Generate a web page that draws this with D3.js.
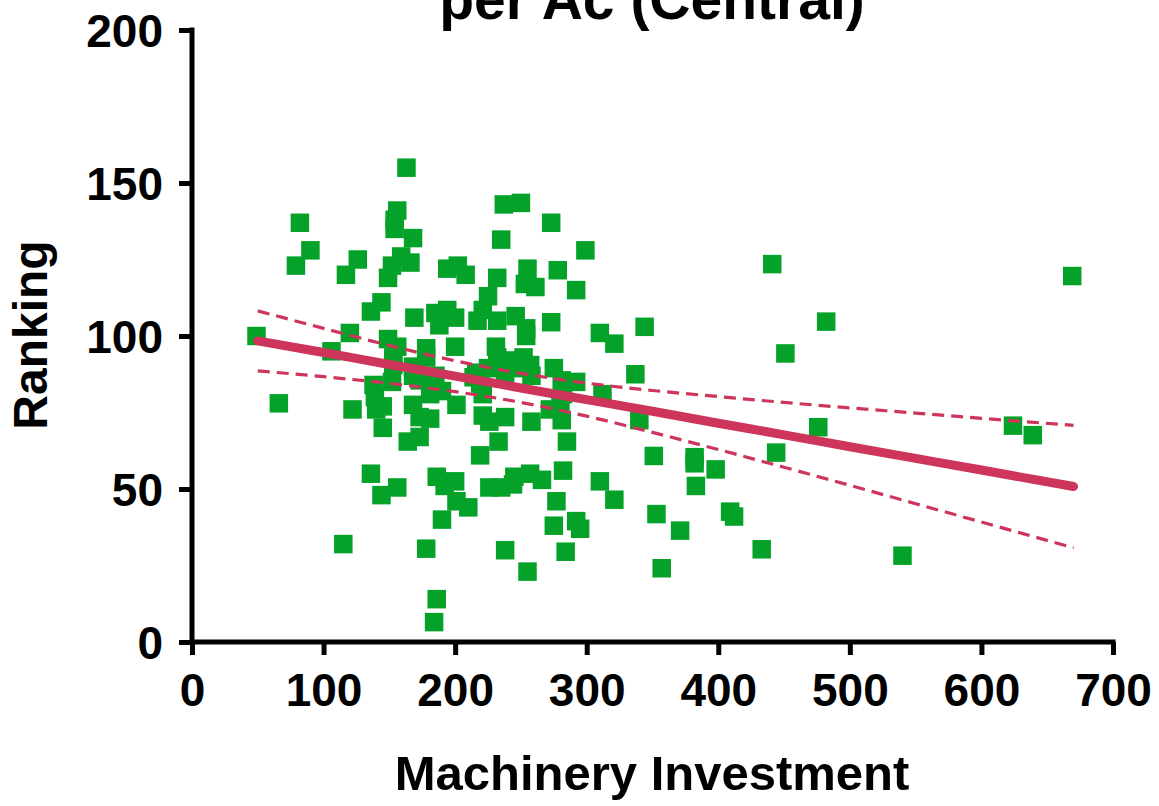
<!DOCTYPE html>
<html>
<head>
<meta charset="utf-8">
<script src="https://cdn.jsdelivr.net/npm/d3@7"></script>
<style>
  html, body { margin: 0; padding: 0; background: #fff; }
  svg { display: block; }
  text { font-family: "Liberation Sans", Arial, sans-serif; font-weight: bold; fill: #000; }
</style>
</head>
<body>
<svg id="chart" width="1159" height="806"></svg>
<script>
// ---- data ----
const titleText = "per Ac (Central)";
const xTitle = "Machinery Investment";
const yTitle = "Ranking";
const xTicks = [0, 100, 200, 300, 400, 500, 600, 700];
const yTicks = [0, 50, 100, 150, 200];

const pointX = [
  49, 66, 82, 90, 79, 126, 117, 120, 106, 122, 115, 136, 138, 139, 140, 136,
  163, 156, 154, 154, 168, 159, 166, 152, 149, 144, 169, 185, 149, 156, 178, 153,
  153, 168, 178, 173, 168, 185, 181, 190, 152, 168, 173, 181, 145, 145, 173, 164,
  156, 144, 186, 190, 178, 186, 184,
  194, 202, 208, 232, 255, 253, 261, 237, 250, 235, 225, 221, 217, 194, 200, 188,
  232, 246, 254, 254, 200, 231, 232, 239, 225, 252, 257, 258, 247, 216, 214, 219,
  221, 238, 201, 221, 226, 238, 233, 219, 200, 192, 201, 210, 226, 235, 244, 245,
  257, 266, 238, 255,
  273, 299, 278, 292, 273, 310, 321, 344, 275, 281, 292, 282, 280, 272, 281, 258,
  312, 337, 340, 285, 282, 310, 321, 277, 275, 292, 295, 284,
  441, 669, 482, 451, 476, 624, 639, 444, 351, 382, 382, 398, 383, 353, 409, 412,
  371, 433, 540, 357
];
const pointY = [
  100, 78, 137, 128, 123, 125, 120, 101, 95, 76, 32, 108, 84, 80, 76, 55,
  155, 141, 138, 135, 132, 126, 124, 123, 119, 111, 106, 107.5, 99, 96.5, 96, 93,
  90.5, 90, 93, 85.5, 87, 87, 81, 82, 85, 77.5, 73.5, 73, 77, 70, 67, 65.5,
  50.5, 48, 54, 40, 30.5, 14, 6.5,
  122, 123, 120, 119, 122, 117, 116, 143, 143.5, 131.5, 113, 108.5, 105, 108.5, 106, 103.5,
  105, 106.5, 102.5, 100, 96.5, 96.5, 93, 92, 89.5, 93, 90.5, 87, 89.5, 88, 86.5, 84.5,
  81, 88, 77.5, 74, 72, 73.5, 65.5, 61, 52.5, 51, 46, 44, 50.5, 50.5, 51.5, 54,
  55, 53, 30, 23,
  137, 128, 121.5, 115, 104.5, 101, 97.5, 103, 89.5, 85.5, 85, 81, 78.5, 76, 72.5, 72,
  81, 87.5, 72.5, 65.5, 56, 52.5, 46.5, 46, 38, 39.5, 37, 29.5,
  123.5, 119.6, 104.7, 94.3, 70.2, 70.7, 67.6, 61.9, 60.8, 60.4, 58.4, 56.4, 51, 41.8, 42.6, 41,
  36.4, 30.3, 28.2, 24.1
];

// linear fit and its 95% confidence band
const fitX   = [50, 100, 150, 200, 250, 300, 350, 400, 450, 500, 550, 600, 670];
const fitY   = [98.4, 94.6, 90.7, 86.9, 83.0, 79.2, 75.4, 71.5, 67.7, 63.8, 60.0, 56.2, 50.8];
const upperY = [108.2, 102.5, 96.9, 91.9, 87.8, 84.6, 82.2, 80.2, 78.3, 76.5, 74.8, 73.1, 70.8];
const lowerY = [88.6, 86.7, 84.5, 81.8, 78.3, 73.8, 68.5, 62.9, 57.1, 51.2, 45.2, 39.2, 30.8];

// ---- drawing ----
const svg = d3.select("#chart");
const x = d3.scaleLinear().domain([0, 700]).range([192, 1113]);
const y = d3.scaleLinear().domain([0, 200]).range([642, 30]);

const green = "#05a22a";
const red = "#cd355b";
const ms = 18.5;

// points
svg.append("g").selectAll("rect")
  .data(pointX.map((v, i) => [v, pointY[i]]))
  .join("rect")
  .attr("x", d => x(d[0]) - ms / 2)
  .attr("y", d => y(d[1]) - ms / 2)
  .attr("width", ms)
  .attr("height", ms)
  .attr("fill", green);

// fit lines
const line = arr => d3.line().x((d, i) => x(fitX[i])).y(d => y(d)).curve(d3.curveMonotoneX)(arr);
svg.append("path").attr("d", line(upperY)).attr("fill", "none")
  .attr("stroke", red).attr("stroke-width", 3.2).attr("stroke-dasharray", "12,7");
svg.append("path").attr("d", line(lowerY)).attr("fill", "none")
  .attr("stroke", red).attr("stroke-width", 3.2).attr("stroke-dasharray", "12,7");
svg.append("path").attr("d", line(fitY)).attr("fill", "none")
  .attr("stroke", red).attr("stroke-width", 9).attr("stroke-linecap", "round");

// axes
const xAxis = svg.append("g").attr("transform", "translate(0,642)")
  .call(d3.axisBottom(x).tickValues(xTicks).tickSize(13).tickPadding(18).tickFormat(d3.format("d")));
const yAxis = svg.append("g").attr("transform", "translate(192,0)")
  .call(d3.axisLeft(y).tickValues(yTicks).tickSize(13).tickPadding(16).tickFormat(d3.format("d")));
[xAxis, yAxis].forEach(g => {
  g.select(".domain").attr("stroke", "#000").attr("stroke-width", 5)
    .attr("stroke-linecap", "square");
  g.selectAll(".tick line").attr("stroke", "#000").attr("stroke-width", 5);
  g.selectAll(".tick text").attr("font-size", 46).attr("font-family", "Liberation Sans, Arial, sans-serif")
    .attr("font-weight", "bold").attr("fill", "#000");
});
xAxis.select(".domain").attr("d", `M${x(0)},0H${x(700)}`);
yAxis.select(".domain").attr("d", `M0,${y(0)}V${y(200)}`);
yAxis.selectAll(".tick text").attr("dy", "0.36em");

// titles
svg.append("text").attr("x", 652).attr("y", 19).attr("text-anchor", "middle")
  .attr("font-size", 57).text(titleText);
svg.append("text").attr("x", 652).attr("y", 790).attr("text-anchor", "middle")
  .attr("font-size", 49).text(xTitle);
svg.append("text").attr("transform", "translate(47,335) rotate(-90)")
  .attr("text-anchor", "middle").attr("font-size", 48).text(yTitle);
</script>
</body>
</html>
